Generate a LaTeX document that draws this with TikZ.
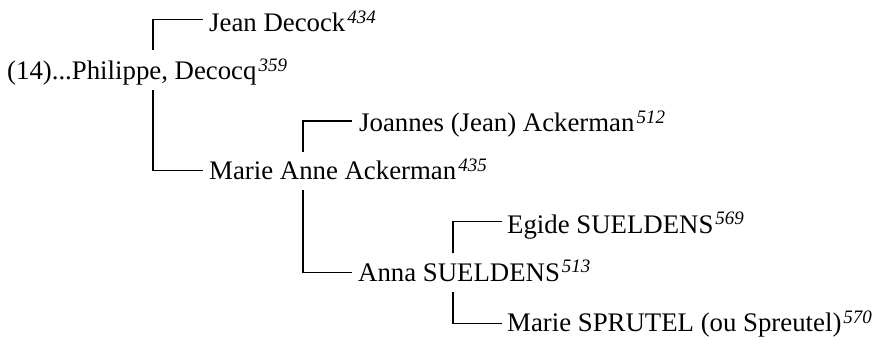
\documentclass[tikz,border=0pt]{standalone}
\usepackage{fontspec}
\setmainfont{Liberation Serif}
\usetikzlibrary{calc}
\newcommand\refnum[1]{\kern2pt\raisebox{8.5pt}{\fontsize{19}{21}\selectfont\itshape #1}}
\tikzset{
  person/.style={anchor=base west, inner sep=0pt, font=\fontsize{26.8}{30}\selectfont},
  link/.style={line width=1.2pt, line cap=butt}
}
\begin{document}
\begin{tikzpicture}[x=1pt, y=-1pt]
\useasboundingbox (0,0) rectangle (875,344);
% branch columns
\coordinate (b1) at (153,0);
\coordinate (b2) at (303,0);
\coordinate (b3) at (453,0);
% people
\node[person] (phil) at (7,80) {(14)...Philippe, Decocq\refnum{359}};
\node[person] (jean) at (209,31.7) {Jean Decock\refnum{434}};
\node[person] (marie) at (209,180) {Marie Anne Ackerman\refnum{435}};
\node[person] (joannes) at (359,132) {Joannes (Jean) Ackerman\refnum{512}};
\node[person] (anna) at (358,281.5) {Anna SUELDENS\refnum{513}};
\node[person] (egide) at (507,233.3) {Egide SUELDENS\refnum{569}};
\node[person] (sprutel) at (507,331.7) {Marie SPRUTEL (ou Spreutel)\refnum{570}};
% connectors
\draw[link] ($(phil.base -| b1)+(0,30pt)$) |- ($(jean.base west)+(-6pt,12.4pt)$);
\draw[link] ($(phil.base -| b1)+(0,-10pt)$) |- ($(marie.base west)+(-6pt,9.3pt)$);
\draw[link] ($(marie.base -| b2)+(0,28pt)$) |- ($(joannes.base west)+(-7pt,11pt)$);
\draw[link] ($(marie.base -| b2)+(0,-10pt)$) |- ($(anna.base west)+(-6pt,8.8pt)$);
\draw[link] ($(anna.base -| b3)+(0,28pt)$) |- ($(egide.base west)+(-5pt,11.6pt)$);
\draw[link] ($(anna.base -| b3)+(0,-11pt)$) |- ($(sprutel.base west)+(-5pt,8.4pt)$);
\end{tikzpicture}
\end{document}
